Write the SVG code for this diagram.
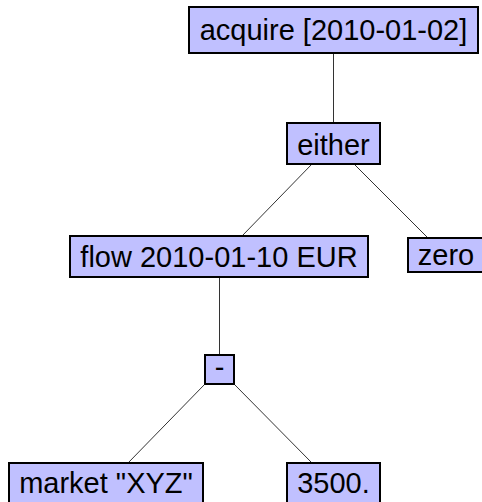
<svg xmlns="http://www.w3.org/2000/svg" width="482" height="502" viewBox="0 0 482 502">
  <style>
    .box { fill: #c0c0ff; stroke: #000; stroke-width: 2; }
    .lbl { font-family: "Liberation Sans", Arial, sans-serif; font-size: 29px; fill: #000; text-anchor: middle; }
    .edge { stroke: #333; stroke-width: 1; fill: none; }
  </style>
  <rect width="482" height="502" fill="#fff"/>
  <g id="edges">
    <line class="edge" x1="333.5" y1="53" x2="333.5" y2="123"/>
    <line class="edge" x1="312" y1="164" x2="242" y2="236"/>
    <line class="edge" x1="354" y1="164" x2="428" y2="238"/>
    <line class="edge" x1="219.5" y1="277" x2="219.5" y2="355"/>
    <line class="edge" x1="205" y1="384" x2="128" y2="463"/>
    <line class="edge" x1="234" y1="384" x2="312" y2="463"/>
  </g>
  <g id="acquire">
    <rect class="box" x="189" y="7" width="289" height="46"/>
    <text class="lbl" x="333.5" y="39.5">acquire [2010-01-02]</text>
  </g>
  <g id="either">
    <rect class="box" x="287" y="123" width="93" height="41"/>
    <text class="lbl" x="333.5" y="155">either</text>
  </g>
  <g id="flow">
    <rect class="box" x="70" y="236" width="298" height="41"/>
    <text class="lbl" x="219" y="267">flow 2010-01-10 EUR</text>
  </g>
  <g id="zero">
    <rect class="box" x="408" y="238" width="76" height="34"/>
    <text class="lbl" x="446" y="265">zero</text>
  </g>
  <g id="minus">
    <rect class="box" x="205" y="355" width="29" height="29"/>
    <text class="lbl" x="219.5" y="377">-</text>
  </g>
  <g id="market">
    <rect class="box" x="9" y="463" width="194" height="42"/>
    <text class="lbl" x="106" y="493">market "XYZ"</text>
  </g>
  <g id="num3500">
    <rect class="box" x="287" y="463" width="93" height="42"/>
    <text class="lbl" x="333.5" y="493">3500.</text>
  </g>
</svg>
